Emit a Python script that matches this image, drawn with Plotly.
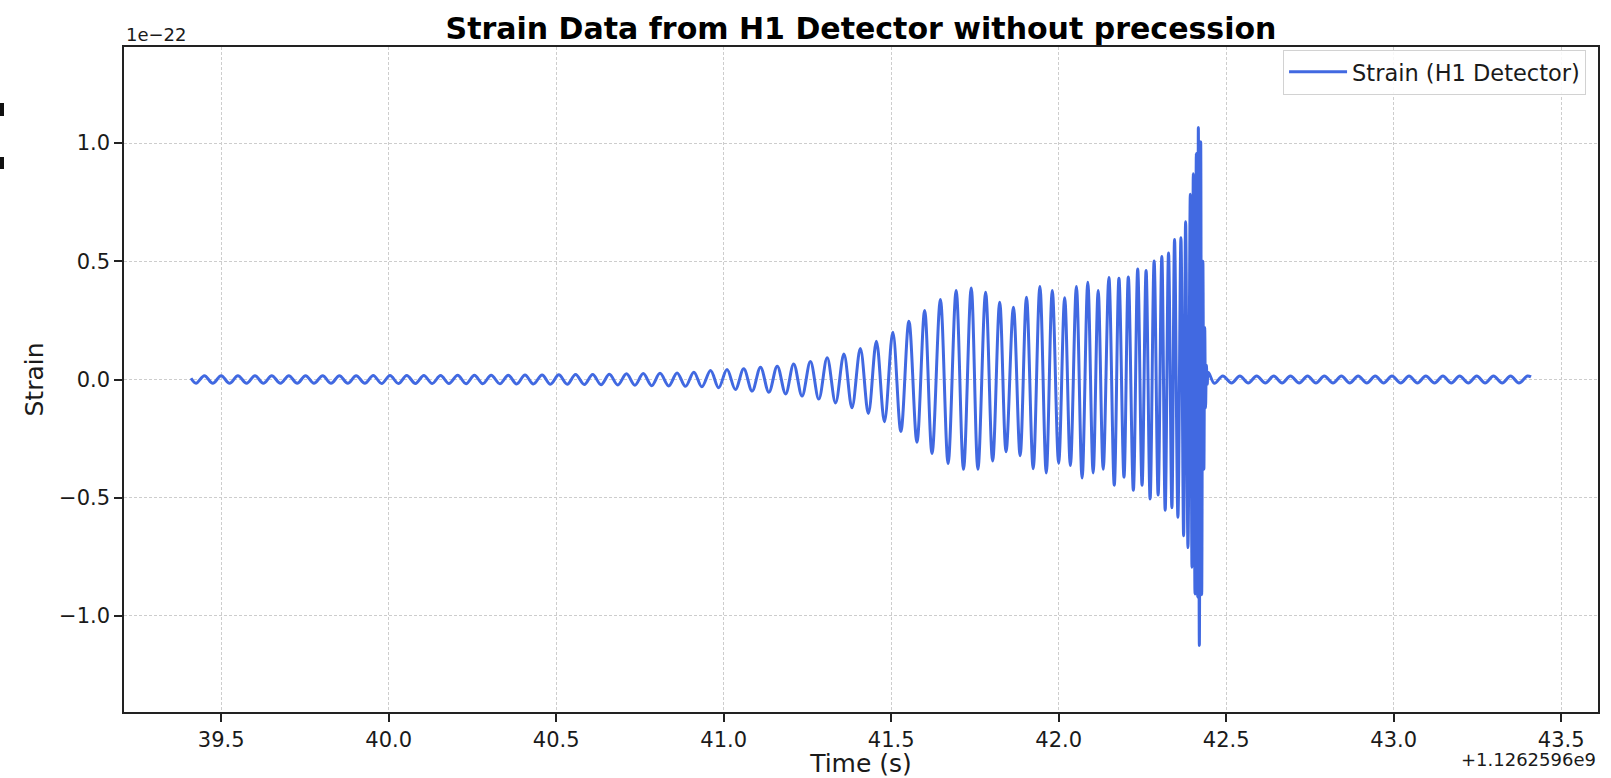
import plotly.graph_objects as go

# ---------------- data ----------------
gps_offset_label = "+1.1262596e9"      # x offset shown under the axis
strain_scale_label = "1e\u221222"        # y scale shown above the axis
series_name = "Strain (H1 Detector)"

# times are seconds after 1.1262596e9, strain in units of 1e-22
# quiet 20 Hz wiggle before the chirp (start + alternating troughs/peaks)
t_early = [39.410, 39.425, 39.450, 39.475, 39.500, 39.525, 39.550, 39.576, 39.601, 39.626,
           39.651, 39.677, 39.702, 39.727, 39.752, 39.777, 39.803, 39.828, 39.853, 39.878,
           39.903, 39.929, 39.954, 39.979, 40.004, 40.029, 40.054, 40.080, 40.105, 40.130,
           40.155, 40.180, 40.206, 40.231, 40.256, 40.281, 40.306, 40.332, 40.357, 40.382,
           40.407, 40.432, 40.458, 40.483, 40.508, 40.533, 40.558, 40.584, 40.609, 40.634,
           40.659, 40.684, 40.710, 40.735, 40.760, 40.785, 40.810, 40.836, 40.861, 40.886]
h_early = [0.005,
           -0.016, 0.016, -0.016, 0.016, -0.016, 0.016, -0.016, 0.016, -0.016, 0.016,
           -0.016, 0.016, -0.016, 0.016, -0.016, 0.016, -0.016, 0.016, -0.016, 0.016,
           -0.016, 0.017, -0.017, 0.017, -0.017, 0.017, -0.017, 0.017, -0.017, 0.017,
           -0.017, 0.018, -0.018, 0.018, -0.018, 0.018, -0.018, 0.018, -0.019, 0.019,
           -0.019, 0.019, -0.020, 0.020, -0.020, 0.021, -0.021, 0.021, -0.022, 0.022,
           -0.023, 0.024, -0.024, 0.025, -0.026, 0.026, -0.027, 0.028, -0.029]

# chirp: alternating peaks / troughs up to merger and ringdown
t_chirp = [40.911, 40.935, 40.961, 40.985, 41.010, 41.035, 41.060, 41.085, 41.110, 41.135,
           41.160, 41.185, 41.209, 41.234, 41.259, 41.284, 41.309, 41.334, 41.359, 41.383,
           41.408, 41.432, 41.456, 41.480, 41.505, 41.529, 41.553, 41.577, 41.600, 41.622,
           41.647, 41.670, 41.694, 41.716, 41.739, 41.759, 41.782, 41.803, 41.824, 41.843,
           41.865, 41.885, 41.904, 41.924, 41.944, 41.963, 41.981, 42.000, 42.018, 42.035,
           42.053, 42.070, 42.087, 42.103, 42.118, 42.133, 42.150, 42.166, 42.180, 42.195,
           42.208, 42.223, 42.236, 42.249, 42.261, 42.273, 42.285, 42.297, 42.308, 42.318,
           42.328, 42.338, 42.346, 42.356, 42.365, 42.373, 42.379, 42.386, 42.393, 42.398,
           42.402, 42.407, 42.411, 42.415, 42.417, 42.420, 42.424, 42.427, 42.4305, 42.4335,
           42.436, 42.4385, 42.441, 42.4435, 42.447]
h_chirp = [0.031, -0.031, 0.038, -0.035, 0.042, -0.042, 0.045, -0.049, 0.052, -0.054,
           0.056, -0.061, 0.066, -0.070, 0.076, -0.083, 0.092, -0.099, 0.108, -0.120,
           0.131, -0.144, 0.162, -0.179, 0.200, -0.220, 0.246, -0.265, 0.292, -0.313,
           0.338, -0.355, 0.376, -0.380, 0.387, -0.380, 0.369, -0.345, 0.327, -0.306,
           0.306, -0.322, 0.348, -0.377, 0.393, -0.395, 0.376, -0.354, 0.346, -0.364,
           0.393, -0.417, 0.411, -0.395, 0.376, -0.380, 0.431, -0.447, 0.428, -0.413,
           0.434, -0.468, 0.467, -0.447, 0.461, -0.505, 0.501, -0.489, 0.520, -0.553,
           0.535, -0.542, 0.592, -0.583, 0.599, -0.661, 0.667, -0.711, 0.783, -0.794,
           0.870, -0.907, 0.956, -0.920, 1.066, -1.125, 1.006, -0.910, 0.500, -0.380,
           0.220, -0.120, 0.060, -0.020, 0.030]

# quiet 20 Hz wiggle after the merger (alternating troughs/peaks + end)
t_late = [42.465, 42.490, 42.516, 42.541, 42.566, 42.591, 42.617, 42.642, 42.667, 42.692,
          42.718, 42.743, 42.768, 42.793, 42.819, 42.844, 42.869, 42.894, 42.920, 42.945,
          42.970, 42.995, 43.021, 43.046, 43.071, 43.096, 43.122, 43.147, 43.172, 43.197,
          43.223, 43.248, 43.273, 43.298, 43.324, 43.349, 43.374, 43.399, 43.410]
h_late = [-0.016, 0.015, -0.015, 0.015, -0.015, 0.015, -0.015, 0.015, -0.015, 0.015,
          -0.015, 0.015, -0.015, 0.015, -0.015, 0.015, -0.015, 0.015, -0.015, 0.015,
          -0.015, 0.015, -0.015, 0.015, -0.015, 0.015, -0.015, 0.015, -0.015, 0.015,
          -0.015, 0.015, -0.015, 0.015, -0.015, 0.015, -0.015, 0.015, 0.011]

x_tick_values = [39.5, 40.0, 40.5, 41.0, 41.5, 42.0, 42.5, 43.0, 43.5]
x_tick_labels = ["39.5", "40.0", "40.5", "41.0", "41.5", "42.0", "42.5", "43.0", "43.5"]
y_tick_values = [-1.0, -0.5, 0.0, 0.5, 1.0]
y_tick_labels = ["\u22121.0", "\u22120.5", "0.0", "0.5", "1.0"]

title_text = "Strain Data from H1 Detector without precession"
x_title = "Time (s)"
y_title = "Strain"

# ---------------- figure ----------------
t_all = t_early + t_chirp + t_late
h_all = h_early + h_chirp + h_late

W, H = 1611, 778
ML, MR, MT, MB = 124, 13, 47, 66
FONT = "DejaVu Sans"
INK = "#1a1a1a"

span = t_all[-1] - t_all[0]
x_range = [t_all[0] - 0.05 * span, t_all[-1] + 0.05 * span]
ylim = 1.25 * max(abs(v) for v in h_all)

fig = go.Figure()
fig.add_trace(go.Scatter(
    x=t_all, y=h_all, mode="lines", name=series_name,
    line=dict(color="royalblue", width=3, shape="spline", smoothing=1.0),
))

axis_common = dict(
    showline=True, mirror=True, linecolor="#222222", linewidth=1.5,
    ticks="outside", ticklen=8, tickwidth=1.5, tickcolor="#222222",
    tickfont=dict(family=FONT, size=21, color=INK),
    showgrid=True, gridcolor="#cdcdcd", gridwidth=1, griddash="3px,2px",
    zeroline=False, automargin=False,
)

fig.update_layout(
    width=W, height=H,
    margin=dict(l=ML, r=MR, t=MT, b=MB, autoexpand=False),
    paper_bgcolor="white", plot_bgcolor="white",
    font=dict(family=FONT, color=INK),
    title=dict(text=title_text, x=(ML + (W - ML - MR) / 2) / W, xanchor="center",
               yref="container", y=1 - 28 / H, yanchor="middle",
               font=dict(family=FONT, size=30, weight=700, color="#000000")),
    xaxis=dict(range=x_range, tickvals=x_tick_values, ticktext=x_tick_labels,
               title=dict(text=x_title, font=dict(family=FONT, size=25, color=INK), standoff=8),
               **axis_common),
    yaxis=dict(range=[-ylim, ylim], tickvals=y_tick_values, ticktext=y_tick_labels,
               title=dict(text=y_title, font=dict(family=FONT, size=25, color=INK), standoff=8),
               **axis_common),
    showlegend=True,
    legend=dict(x=0.9919, y=0.996, xanchor="right", yanchor="top", itemwidth=58,
                bgcolor="rgba(255,255,255,0.85)", bordercolor="#d2d2d2", borderwidth=1,
                font=dict(family=FONT, size=22.5, color=INK)),
)

# scale / offset texts (matplotlib-style)
fig.add_annotation(text=strain_scale_label, xref="paper", yref="paper", x=0, y=1,
                   xanchor="left", yanchor="bottom", yshift=0, showarrow=False,
                   font=dict(family=FONT, size=18, color=INK))
fig.add_annotation(text=gps_offset_label, xref="paper", yref="paper", x=1, y=0,
                   xanchor="right", yanchor="middle", yshift=-47, showarrow=False,
                   font=dict(family=FONT, size=18, color=INK))

# small dark marks at the left edge of the reference image
pw = W - ML - MR
ph = H - MT - MB
for y0, y1 in [(103, 116), (157, 169)]:
    fig.add_shape(type="rect", xref="paper", yref="paper",
                  x0=(0 - ML) / pw, x1=(4 - ML) / pw,
                  y0=(H - MB - y1) / ph, y1=(H - MB - y0) / ph,
                  fillcolor="#111111", line=dict(width=0))

fig.write_html("out.html")
